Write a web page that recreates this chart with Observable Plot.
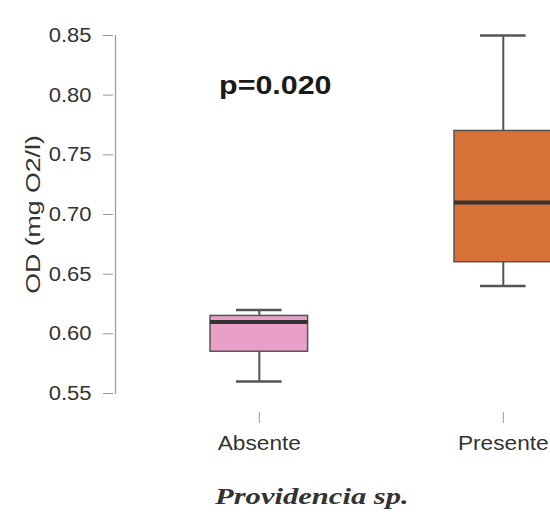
<!DOCTYPE html>
<html>
<head>
<meta charset="utf-8">
<script src="https://cdn.jsdelivr.net/npm/d3@7"></script>
<script src="https://cdn.jsdelivr.net/npm/@observablehq/plot@0.6"></script>
<style>
  html, body { margin: 0; padding: 0; background: #fff; width: 550px; overflow: hidden; }
  #chart svg { display: block; }
  .caption { font-family: "Liberation Serif", "DejaVu Serif", serif; font-style: italic; font-weight: bold;
    font-size: 23px; color: #333; line-height: 54px; padding-left: 215px; }
  .caption span { display: inline-block; transform: scaleX(1.33); transform-origin: left center; }
</style>
</head>
<body>
<div id="chart"></div>
<div class="caption"><span>Providencia sp.</span></div>
<script>
const categories = ["Absente", "Presente"];
const whiskerLow = [0.56, 0.64];
const q1 = [0.585, 0.66];
const medians = [0.61, 0.71];
const q3 = [0.615, 0.77];
const whiskerHigh = [0.62, 0.85];
const boxFills = ["#e8a0c9", "#d87236"];
const yTicks = [0.55, 0.60, 0.65, 0.70, 0.75, 0.80, 0.85];
const pLabel = "p=0.020";
const pAt = {cat: "Absente", y: 0.808};

const data = categories.map((c, i) => ({
  cat: c, lo: whiskerLow[i], q1: q1[i], med: medians[i], q3: q3[i], hi: whiskerHigh[i], fill: boxFills[i]
}));

const chart = Plot.plot({
  width: 550,
  height: 470,
  marginLeft: 115,
  marginRight: 0,
  marginTop: 35,
  marginBottom: 77,
  style: {fontFamily: "'Liberation Sans', Arial, sans-serif", color: "#333", background: "#fff"},
  x: {type: "band", domain: categories, range: [136.8, 624.8], paddingInner: 0.6, paddingOuter: 0.3, round: false},
  y: {domain: [0.55, 0.85]},
  marks: [
    Plot.frame({anchor: "left", stroke: "#999", strokeWidth: 1.2}),
    Plot.axisY({ticks: yTicks, tickFormat: d3.format(".2f"), tickSize: 10, tickPadding: 12, dx: -2,
      stroke: "#999", fill: "#333", fontSize: 20, label: null}),
    Plot.axisX({tickSize: 11, tickPadding: 12, dy: 19, stroke: "#999", fill: "#333", fontSize: 21, label: null}),
    Plot.axisY({ticks: [], label: "OD (mg O2/l)", labelAnchor: "center", labelArrow: "none", labelOffset: 90,
      fontSize: 21, fill: "#333"}),
    Plot.ruleX(data, {x: "cat", y1: "lo", y2: "hi", stroke: "#555", strokeWidth: 2}),
    Plot.tickY(data, {x: "cat", y: "lo", stroke: "#555", strokeWidth: 2.5, insetLeft: 26, insetRight: 26}),
    Plot.tickY(data, {x: "cat", y: "hi", stroke: "#555", strokeWidth: 2.5, insetLeft: 26, insetRight: 26}),
    Plot.barY(data, {x: "cat", y1: "q1", y2: "q3", fill: "fill", stroke: "#555", strokeWidth: 1.5}),
    Plot.tickY(data, {x: "cat", y: "med", stroke: "#333", strokeWidth: 4}),
    Plot.text([pAt], {x: "cat", y: "y", text: () => pLabel, dx: 16, fontSize: 26, fontWeight: "bold",
      fill: "#1a1a1a", textAnchor: "middle"})
  ]
});
document.getElementById("chart").appendChild(chart);

// widen glyphs a little to mimic the horizontally stretched reference text
function stretch(selector, factor) {
  chart.querySelectorAll(selector).forEach(t => {
    const w = t.getComputedTextLength();
    if (w > 0) {
      t.setAttribute("textLength", (w * factor).toFixed(1));
      t.setAttribute("lengthAdjust", "spacingAndGlyphs");
    }
  });
}
stretch('g[aria-label="y-axis tick label"] text', 1.1);
stretch('g[aria-label="x-axis tick label"] text', 1.08);
stretch('g[aria-label="y-axis label"] text', 1.27);
stretch('g[aria-label="text"] text', 1.17);
</script>
</body>
</html>
